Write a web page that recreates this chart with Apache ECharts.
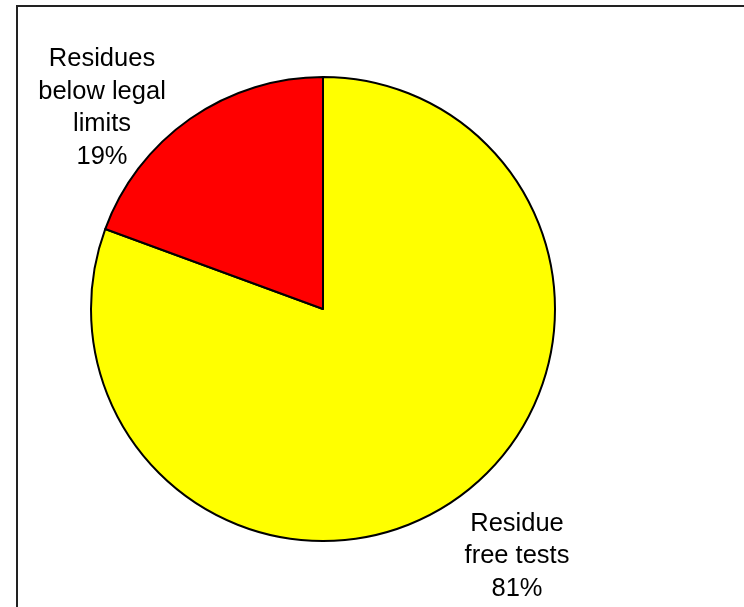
<!DOCTYPE html>
<html>
<head>
<meta charset="utf-8">
<script src="https://cdn.jsdelivr.net/npm/echarts@6/dist/echarts.min.js"></script>
<style>
html,body{margin:0;padding:0;background:#fff;}
#chart{width:744px;height:607px;}
</style>
</head>
<body>
<div id="chart"></div>
<script>
var categories = ["Residue\nfree tests", "Residues\nbelow legal\nlimits"];
var values = [80.6, 19.4];
var colors = ["#FFFF00", "#FF0000"];
var labelPos = [[517, 556], [102, 108]];

var chart = echarts.init(document.getElementById('chart'), null, {renderer: 'canvas'});
chart.setOption({
  animation: false,
  backgroundColor: '#ffffff',
  graphic: [{
    type: 'rect',
    shape: {x: 17, y: 6, width: 800, height: 700},
    style: {fill: 'none', stroke: '#222', lineWidth: 2},
    silent: true
  }],
  series: [{
    type: 'pie',
    center: [323, 309],
    radius: [0, 232],
    startAngle: 90,
    clockwise: true,
    percentPrecision: 0,
    data: categories.map(function (c, i) {
      return {name: c, value: values[i], itemStyle: {color: colors[i]}};
    }),
    itemStyle: {borderColor: '#000', borderWidth: 2},
    label: {
      show: true,
      position: 'outside',
      formatter: '{b}\n{d}%',
      fontFamily: 'Liberation Sans, Arial, sans-serif',
      fontSize: 25.5,
      lineHeight: 32.5,
      color: '#000',
      align: 'center'
    },
    labelLine: {show: false},
    labelLayout: function (p) {
      var pos = labelPos[p.dataIndex];
      return {x: pos[0], y: pos[1], align: 'center', verticalAlign: 'middle', hideOverlap: false};
    },
    emphasis: {disabled: true}
  }]
});
</script>
</body>
</html>
